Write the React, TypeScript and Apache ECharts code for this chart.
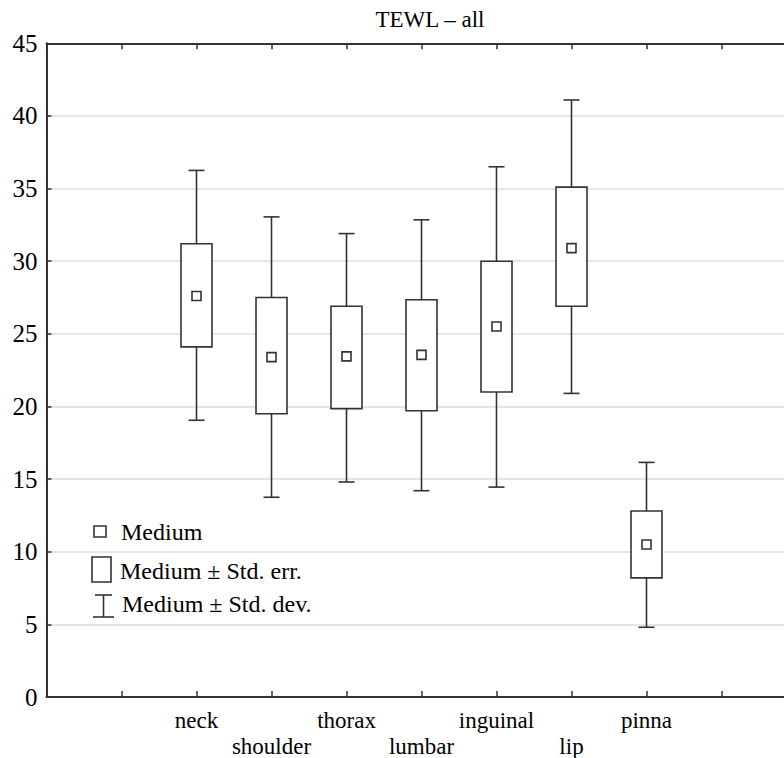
import React, { useEffect, useRef } from "react";
import * as echarts from "echarts";

const categories = ["neck", "shoulder", "thorax", "lumbar", "inguinal", "lip", "pinna"];
const medians = [27.6, 23.4, 23.45, 23.55, 25.5, 30.9, 10.5];
const stdErrLow = [24.1, 19.5, 19.85, 19.7, 21.0, 26.9, 8.2];
const stdErrHigh = [31.2, 27.5, 26.9, 27.35, 30.0, 35.1, 12.8];
const stdDevLow = [19.05, 13.75, 14.8, 14.2, 14.45, 20.9, 4.8];
const stdDevHigh = [36.25, 33.05, 31.9, 32.85, 36.5, 41.1, 16.15];
const yTicks = [0, 5, 10, 15, 20, 25, 30, 35, 40, 45];
const titleText = "TEWL – all";
const legendLabels = ["Medium", "Medium ± Std. err.", "Medium ± Std. dev."];

// categories occupy slots 2..8 of a 0..10 axis
const SLOT_OFFSET = 2;
const SLOT_COUNT = 10;

const FONT = "Liberation Serif";
const INK = "#333333";

export default function App() {
  const ref = useRef<HTMLDivElement>(null);

  useEffect(() => {
    if (!ref.current) return;
    const chart = echarts.init(ref.current, undefined, { renderer: "svg" });

    const rows = categories.map((_, i) => [
      i + SLOT_OFFSET,
      stdDevLow[i],
      stdErrLow[i],
      medians[i],
      stdErrHigh[i],
      stdDevHigh[i],
    ]);

    const lineStyle = { stroke: INK, lineWidth: 1.6 };

    const renderItem = (params: any, api: any) => {
      const x = api.value(0);
      const pSdLow = api.coord([x, api.value(1)]);
      const pSeLow = api.coord([x, api.value(2)]);
      const pMed = api.coord([x, api.value(3)]);
      const pSeHigh = api.coord([x, api.value(4)]);
      const pSdHigh = api.coord([x, api.value(5)]);
      const cx = pMed[0];
      const boxW = 31;
      const capW = 16;
      const mk = 9;
      return {
        type: "group",
        children: [
          { type: "line", shape: { x1: cx, y1: pSeHigh[1], x2: cx, y2: pSdHigh[1] }, style: lineStyle },
          { type: "line", shape: { x1: cx, y1: pSeLow[1], x2: cx, y2: pSdLow[1] }, style: lineStyle },
          { type: "line", shape: { x1: cx - capW / 2, y1: pSdHigh[1], x2: cx + capW / 2, y2: pSdHigh[1] }, style: lineStyle },
          { type: "line", shape: { x1: cx - capW / 2, y1: pSdLow[1], x2: cx + capW / 2, y2: pSdLow[1] }, style: lineStyle },
          {
            type: "rect",
            shape: { x: cx - boxW / 2, y: pSeHigh[1], width: boxW, height: pSeLow[1] - pSeHigh[1] },
            style: { fill: "#ffffff", stroke: INK, lineWidth: 1.6 },
          },
          {
            type: "rect",
            shape: { x: cx - mk / 2, y: pMed[1] - mk / 2, width: mk, height: mk },
            style: { fill: "#ffffff", stroke: INK, lineWidth: 1.6 },
          },
        ],
      };
    };

    const legendText = (text: string, x: number, y: number) => ({
      type: "text",
      x,
      y,
      z: 10,
      style: { text, fill: "#000", fontFamily: FONT, fontSize: 24, verticalAlign: "middle", align: "left" },
    });

    chart.setOption({
      animation: false,
      title: {
        text: titleText,
        left: 425,
        top: 3,
        textAlign: "center",
        textStyle: { fontFamily: FONT, fontSize: 23, fontWeight: "normal", color: "#000" },
      },
      grid: {
        left: 46.5,
        top: 43.3,
        width: 750,
        height: 653.7,
        containLabel: false,
        outerBoundsMode: "none",
      },
      xAxis: [
        {
          type: "value",
          min: 0,
          max: SLOT_COUNT,
          interval: 1,
          position: "bottom",
          axisLine: { show: true, lineStyle: { color: INK, width: 2 } },
          axisTick: { show: true, inside: true, length: 6, lineStyle: { color: INK, width: 1.5 } },
          splitLine: { show: false },
          axisLabel: {
            show: true,
            margin: 10,
            fontFamily: FONT,
            fontSize: 23,
            lineHeight: 26,
            color: "#000",
            verticalAlign: "top",
            formatter: (v: number) => {
              const i = Math.round(v) - SLOT_OFFSET;
              if (i < 0 || i >= categories.length) return "";
              return i % 2 === 0 ? categories[i] : "\n" + categories[i];
            },
          },
        },
        {
          type: "value",
          min: 0,
          max: SLOT_COUNT,
          interval: 1,
          position: "top",
          axisLine: { show: true, lineStyle: { color: INK, width: 2 } },
          axisTick: { show: true, inside: true, length: 6, lineStyle: { color: INK, width: 1.5 } },
          splitLine: { show: false },
          axisLabel: { show: false },
        },
      ],
      yAxis: {
        type: "value",
        min: yTicks[0],
        max: yTicks[yTicks.length - 1],
        interval: yTicks[1] - yTicks[0],
        axisLine: { show: true, lineStyle: { color: INK, width: 2 } },
        axisTick: { show: true, inside: true, length: 5, lineStyle: { color: INK, width: 1.5 } },
        splitLine: { show: true, lineStyle: { color: "#dddddd", width: 1.5 } },
        axisLabel: { margin: 9, fontFamily: FONT, fontSize: 25, color: "#000" },
      },
      series: [
        {
          type: "custom",
          renderItem,
          data: rows,
          encode: { x: 0, y: [1, 2, 3, 4, 5] },
          clip: false,
          z: 5,
        },
      ],
      graphic: [
        { type: "rect", shape: { x: 94, y: 526, width: 12, height: 11 }, style: { fill: "#fff", stroke: INK, lineWidth: 1.6 }, z: 10 },
        legendText(legendLabels[0], 121, 532),
        { type: "rect", shape: { x: 92, y: 557, width: 19, height: 25 }, style: { fill: "#fff", stroke: INK, lineWidth: 1.6 }, z: 10 },
        legendText(legendLabels[1], 120, 571),
        { type: "line", shape: { x1: 95, y1: 595, x2: 112, y2: 595 }, style: { stroke: INK, lineWidth: 1.6 }, z: 10 },
        { type: "line", shape: { x1: 103.5, y1: 595, x2: 103.5, y2: 617 }, style: { stroke: INK, lineWidth: 1.6 }, z: 10 },
        { type: "line", shape: { x1: 93, y1: 617, x2: 114, y2: 617 }, style: { stroke: INK, lineWidth: 1.6 }, z: 10 },
        legendText(legendLabels[2], 122, 604),
      ],
    });

    return () => chart.dispose();
  }, []);

  return <div ref={ref} style={{ position: "absolute", left: 0, top: 0, width: 784, height: 758 }} />;
}
